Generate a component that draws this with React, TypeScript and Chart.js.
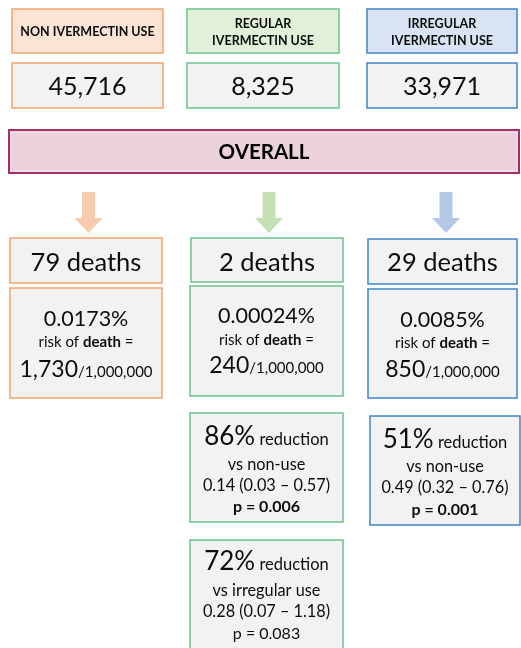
import React, { useEffect, useRef } from 'react';
import { Chart, registerables } from 'chart.js';
Chart.register(...registerables);

// ---------- data ----------
const groupLabels: string[][] = [['NON IVERMECTIN USE'], ['REGULAR', 'IVERMECTIN USE'], ['IRREGULAR', 'IVERMECTIN USE']];
const participants = [45716, 8325, 33971];
const overallLabel = 'OVERALL';
const deaths = [79, 2, 29];
const riskPercent = ['0.0173%', '0.00024%', '0.0085%'];
const riskPerMillion = [1730, 240, 850];
const perMillionLabel = '/1,000,000';
const reductionPct = [86, 51, 72];
const reductionVs = ['non-use', 'non-use', 'irregular use'];
const hazardRatio = [0.14, 0.49, 0.28];
const ciLow = [0.03, 0.32, 0.07];
const ciHigh = [0.57, 0.76, 1.18];
const pValues = ['0.006', '0.001', '0.083'];
const pBold = [true, true, false];

// ---------- layout / style ----------
const FONT = 'Lato, "Open Sans", sans-serif';
const TEXT = '#0d0d0d';
const headerFill = ['#fbe4d5', '#e2efd9', '#dae3f3'];
const borderCol = ['#f0a26c', '#6cc28c', '#3d84c6'];
const arrowCol = ['#f8cbad', '#c5e0b4', '#b4c7e7'];
const greyFill = '#f2f2f2';
const headerBox = [[12, 163, 9, 53], [187, 339, 9, 53], [367, 517, 9, 53]];
const numberBox = [[12, 163, 63, 108], [187, 339, 63, 108], [367, 517, 63, 108]];
const overallBox = [9, 519, 130, 173];
const arrowX = [88.5, 269, 446];
const deathsBox = [[10, 162, 238, 283], [191, 343, 238, 282], [368, 517, 239, 284]];
const riskBox = [[10, 162, 288, 398], [190, 343, 286, 396], [368, 517, 289, 398]];
const riskBase = [[326, 347, 377], [323, 345, 373], [327, 348, 377]];
// reduction boxes: regular vs non, irregular vs non, regular vs irregular
const redBox = [[190, 343, 413, 522], [370, 520, 416, 525], [190, 343, 540, 670]];
const redGroup = [1, 2, 1];
const redBase = [[445, 470, 491, 512], [448, 472, 493, 515], [570, 596, 617, 639]];

type Seg = { t: string; size: number; bold?: boolean };
const font = (s: Seg) => `${s.bold ? 'bold ' : ''}${s.size}px ${FONT}`;

function drawLine(ctx: CanvasRenderingContext2D, segs: Seg[], cx: number, base: number) {
  let total = 0;
  const ws = segs.map((s) => {
    ctx.font = font(s);
    const w = ctx.measureText(s.t).width;
    total += w;
    return w;
  });
  let x = cx - total / 2;
  segs.forEach((s, i) => {
    ctx.font = font(s);
    ctx.fillText(s.t, x, base);
    x += ws[i];
  });
}

const fmt = (n: number) => n.toLocaleString('en-US');

const infographic = {
  id: 'infographic',
  afterDraw(chart: any) {
    const ctx: CanvasRenderingContext2D = chart.ctx;
    const sx = chart.scales.x;
    const sy = chart.scales.y;
    const X = (v: number) => sx.getPixelForValue(v);
    const Y = (v: number) => sy.getPixelForValue(v);
    const rect = (b: number[], fill: string, stroke: string, lw = 1.5) => {
      const x0 = X(b[0]), x1 = X(b[1]), y0 = Y(b[2]), y1 = Y(b[3]);
      ctx.fillStyle = fill;
      ctx.fillRect(x0, y0, x1 - x0, y1 - y0);
      ctx.strokeStyle = stroke;
      ctx.lineWidth = lw;
      ctx.strokeRect(x0, y0, x1 - x0, y1 - y0);
    };
    ctx.save();
    ctx.textAlign = 'left';
    ctx.textBaseline = 'alphabetic';

    groupLabels.forEach((lines, i) => {
      const hb = headerBox[i];
      rect(hb, headerFill[i], borderCol[i]);
      const cx = X((hb[0] + hb[1]) / 2);
      ctx.fillStyle = TEXT;
      if (lines.length === 1) {
        drawLine(ctx, [{ t: lines[0], size: 12.5, bold: true }], cx, Y(36));
      } else {
        drawLine(ctx, [{ t: lines[0], size: 12.5, bold: true }], cx, Y(28));
        drawLine(ctx, [{ t: lines[1], size: 12.5, bold: true }], cx, Y(45));
      }
      const nb = numberBox[i];
      rect(nb, greyFill, borderCol[i]);
      ctx.fillStyle = TEXT;
      drawLine(ctx, [{ t: fmt(participants[i]), size: 25 }], X((nb[0] + nb[1]) / 2), Y(95));
    });

    // overall
    rect(overallBox, '#ead1dc', '#a3306c', 2);
    ctx.strokeStyle = '#f4e3ec';
    ctx.lineWidth = 1;
    ctx.strokeRect(X(overallBox[0]) + 2, Y(overallBox[2]) + 2, X(overallBox[1]) - X(overallBox[0]) - 4, Y(overallBox[3]) - Y(overallBox[2]) - 4);
    ctx.fillStyle = '#000';
    drawLine(ctx, [{ t: overallLabel, size: 20.5, bold: true }], X((overallBox[0] + overallBox[1]) / 2), Y(159));

    // arrows
    arrowX.forEach((ax, i) => {
      ctx.fillStyle = arrowCol[i];
      ctx.beginPath();
      ctx.moveTo(X(ax - 6.5), Y(192));
      ctx.lineTo(X(ax + 6.5), Y(192));
      ctx.lineTo(X(ax + 6.5), Y(218));
      ctx.lineTo(X(ax + 14), Y(218));
      ctx.lineTo(X(ax), Y(233));
      ctx.lineTo(X(ax - 14), Y(218));
      ctx.lineTo(X(ax - 6.5), Y(218));
      ctx.closePath();
      ctx.fill();
    });

    // deaths & risk
    deaths.forEach((d, i) => {
      const db = deathsBox[i];
      rect(db, greyFill, borderCol[i]);
      ctx.fillStyle = TEXT;
      drawLine(ctx, [{ t: `${d} deaths`, size: 25.5 }], X((db[0] + db[1]) / 2), Y(271));
      const rb = riskBox[i];
      rect(rb, greyFill, borderCol[i]);
      const cx = X((rb[0] + rb[1]) / 2);
      ctx.fillStyle = TEXT;
      drawLine(ctx, [{ t: riskPercent[i], size: 21.5 }], cx, Y(riskBase[i][0]));
      drawLine(ctx, [{ t: 'risk of ', size: 15 }, { t: 'death', size: 15, bold: true }, { t: ' =', size: 15 }], cx, Y(riskBase[i][1]));
      drawLine(ctx, [{ t: fmt(riskPerMillion[i]), size: 23 }, { t: perMillionLabel, size: 15 }], cx, Y(riskBase[i][2]));
    });

    // reductions
    reductionPct.forEach((p, i) => {
      const b = redBox[i];
      rect(b, greyFill, borderCol[redGroup[i]]);
      const cx = X((b[0] + b[1]) / 2);
      const bl = redBase[i];
      ctx.fillStyle = TEXT;
      drawLine(ctx, [{ t: `${p}%`, size: 26 }, { t: ' reduction', size: 16.5 }], cx, Y(bl[0]));
      drawLine(ctx, [{ t: `vs ${reductionVs[i]}`, size: 16.3 }], cx, Y(bl[1]));
      drawLine(
        ctx,
        [{ t: `${hazardRatio[i].toFixed(2)} (${ciLow[i].toFixed(2)} \u2013 ${ciHigh[i].toFixed(2)})`, size: 16.3 }],
        cx,
        Y(bl[2])
      );
      drawLine(ctx, [{ t: `p = ${pValues[i]}`, size: 16, bold: pBold[i] }], cx, Y(bl[3]));
    });

    ctx.restore();
  },
};

export default function App() {
  const ref = useRef<HTMLCanvasElement | null>(null);
  useEffect(() => {
    if (!ref.current) return;
    const chart = new Chart(ref.current, {
      type: 'scatter',
      data: { datasets: [] },
      options: {
        responsive: false,
        animation: false,
        events: [],
        layout: { padding: 0 },
        plugins: { legend: { display: false }, tooltip: { enabled: false } },
        scales: {
          x: { type: 'linear', min: 0, max: 521, display: false },
          y: { type: 'linear', min: 0, max: 648, reverse: true, display: false },
        },
      },
      plugins: [infographic],
    } as any);
    if ((document as any).fonts) {
      (document as any).fonts.load(`16px Lato`).then(() => chart.draw());
      (document as any).fonts.load(`bold 16px Lato`).then(() => chart.draw());
    }
    return () => chart.destroy();
  }, []);
  return (
    <div style={{ position: 'absolute', left: 0, top: 0, width: 521, height: 648, background: '#fff' }}>
      <canvas ref={ref} width={521} height={648} style={{ width: 521, height: 648, display: 'block' }} />
    </div>
  );
}
